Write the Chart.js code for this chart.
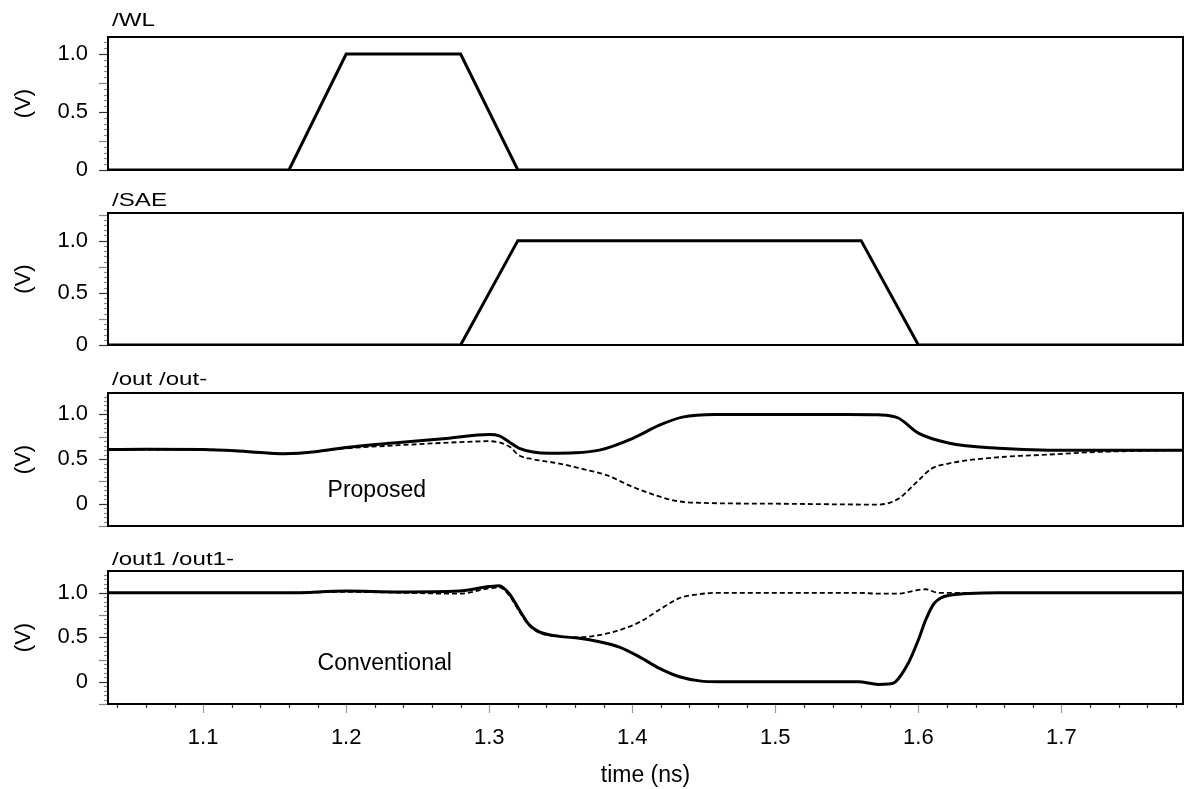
<!DOCTYPE html>
<html>
<head>
<meta charset="utf-8">
<script src="https://cdn.jsdelivr.net/npm/chart.js@4.4.1/dist/chart.umd.min.js"></script>
<style>
html, body { margin: 0; padding: 0; background: #fff; }
#wrap { position: relative; width: 1185px; height: 789px; }
#wrap canvas { position: absolute; left: 0; top: 0; }
</style>
</head>
<body>
<div id="wrap">
  <canvas id="p0" width="1185" height="789"></canvas>
  <canvas id="p1" width="1185" height="789"></canvas>
  <canvas id="p2" width="1185" height="789"></canvas>
  <canvas id="p3" width="1185" height="789"></canvas>
</div>
<script>
// time axis (ns)
const tMin = 1.0335, tMax = 1.785;
const xTicks = [1.1, 1.2, 1.3, 1.4, 1.5, 1.6, 1.7];
const yTicks = [0, 0.5, 1.0];

const panelTitles = ["/WL", "/SAE", "/out /out-", "/out1 /out1-"];
const yMin = [0, 0, -0.25, -0.25];
const yMax = [1.147, 1.265, 1.24, 1.245];

// /WL
const tWL = [1.0335, 1.16, 1.20, 1.28, 1.32, 1.785];
const vWL = [0, 0, 1, 1, 0, 0];

// /SAE
const tSAE = [1.0335, 1.28, 1.32, 1.56, 1.60, 1.785];
const vSAE = [0, 0, 1, 1, 0, 0];

// /out (proposed)
const tOut = [1.0335, 1.06, 1.10, 1.13, 1.157, 1.18, 1.20, 1.237, 1.27, 1.30, 1.307, 1.314, 1.321, 1.342, 1.36, 1.377, 1.40, 1.419, 1.435, 1.458, 1.49, 1.55, 1.572, 1.586, 1.600, 1.621, 1.656, 1.691, 1.785];
const vOut = [0.607, 0.61, 0.607, 0.585, 0.56, 0.585, 0.63, 0.685, 0.73, 0.775, 0.76, 0.69, 0.62, 0.565, 0.57, 0.60, 0.73, 0.88, 0.97, 1.0, 1.0, 1.0, 0.995, 0.96, 0.79, 0.68, 0.62, 0.60, 0.60];

// /out-
const tOutB = [1.0335, 1.10, 1.157, 1.20, 1.237, 1.28, 1.30, 1.314, 1.321, 1.330, 1.349, 1.365, 1.382, 1.40, 1.417, 1.431, 1.447, 1.50, 1.572, 1.586, 1.600, 1.609, 1.621, 1.656, 1.691, 1.726, 1.785];
const vOutB = [0.607, 0.607, 0.56, 0.62, 0.655, 0.69, 0.70, 0.64, 0.54, 0.50, 0.45, 0.39, 0.32, 0.19, 0.09, 0.03, 0.01, 0.0, -0.01, 0.055, 0.26, 0.39, 0.45, 0.52, 0.55, 0.58, 0.60];

// /out1 (conventional)
const tOut1 = [1.0335, 1.16, 1.20, 1.237, 1.279, 1.300, 1.307, 1.314, 1.321, 1.328, 1.335, 1.349, 1.363, 1.377, 1.391, 1.405, 1.419, 1.433, 1.447, 1.461, 1.558, 1.572, 1.579, 1.584, 1.593, 1.600, 1.605, 1.611, 1.621, 1.656, 1.785];
const vOut1 = [1.0, 1.0, 1.02, 1.01, 1.02, 1.07, 1.08, 0.99, 0.81, 0.64, 0.56, 0.51, 0.49, 0.45, 0.39, 0.28, 0.15, 0.056, 0.01, 0.0, 0.0, -0.03, -0.026, 0.0, 0.21, 0.47, 0.69, 0.88, 0.97, 1.0, 1.0];

// /out1-
const tOut1B = [1.0335, 1.16, 1.20, 1.279, 1.300, 1.307, 1.314, 1.321, 1.328, 1.335, 1.349, 1.363, 1.377, 1.391, 1.405, 1.419, 1.433, 1.447, 1.461, 1.558, 1.572, 1.586, 1.596, 1.605, 1.614, 1.785];
const vOut1B = [1.0, 1.0, 1.01, 0.99, 1.05, 1.06, 0.97, 0.79, 0.63, 0.55, 0.51, 0.50, 0.525, 0.58, 0.67, 0.81, 0.94, 0.985, 1.0, 1.0, 0.99, 0.99, 1.02, 1.04, 1.0, 1.0];

// in-plot labels
const noteText = ["Proposed", "Conventional"];
const noteT = [1.187, 1.180];
const noteV = [0.07, 0.13];

// panel boxes on the page
const panelTop = [37, 213, 393, 571];
const panelBottom = [170, 345, 526, 704];
const titleGap = [11, 7, 8, 6];

const FONT = "'Liberation Sans', Arial, sans-serif";
Chart.defaults.font.family = FONT;
Chart.defaults.font.size = 22;
Chart.defaults.color = "#000";

const pts = (ts, vs) => ts.map((t, i) => ({ x: t, y: vs[i] }));

const solid = (ts, vs, smooth) => ({
    data: pts(ts, vs),
    borderColor: "#000",
    borderWidth: 3,
    pointRadius: 0,
    tension: 0,
    cubicInterpolationMode: smooth ? "monotone" : "default"
});

const dashed = (ts, vs) => ({
    data: pts(ts, vs),
    borderColor: "#000",
    borderWidth: 1.8,
    borderDash: [5, 3],
    pointRadius: 0,
    cubicInterpolationMode: "monotone"
});

// frame, minor ticks, panel title and note
const panelPlugin = {
    id: "panel",
    afterDatasetsDraw(chart, args, opts) {
        const { ctx, chartArea: a } = chart;
        const ys = chart.scales.y, xs = chart.scales.x;
        ctx.save();

        // y ticks every 0.05
        for (let k = Math.ceil(ys.min / 0.05 - 1e-6); k * 0.05 <= ys.max + 1e-9; k++) {
            const py = Math.round(ys.getPixelForValue(k * 0.05)) + 0.5;
            const len = (k % 5 === 0) ? 9 : 4;
            ctx.strokeStyle = (k % 10 === 0) ? "#333" : "#888";
            ctx.lineWidth = 1.2;
            ctx.beginPath();
            ctx.moveTo(a.left - len, py);
            ctx.lineTo(a.left, py);
            ctx.stroke();
        }

        // x ticks every 0.02 on the bottom panel
        if (opts.xAxis) {
            for (let k = Math.ceil(xs.min / 0.02); k * 0.02 <= xs.max + 1e-9; k++) {
                const px = Math.round(xs.getPixelForValue(k * 0.02)) + 0.5;
                const major = k % 5 === 0;
                ctx.strokeStyle = major ? "#999" : "#333";
                ctx.lineWidth = 1.2;
                ctx.beginPath();
                ctx.moveTo(px, a.bottom);
                ctx.lineTo(px, a.bottom + (major ? 9 : 4));
                ctx.stroke();
            }
        }

        ctx.strokeStyle = "#000";
        ctx.lineWidth = 2;
        ctx.strokeRect(a.left, a.top, a.right - a.left, a.bottom - a.top);

        ctx.fillStyle = "#000";
        ctx.textBaseline = "alphabetic";
        ctx.textAlign = "left";

        if (opts.note) {
            ctx.font = "23px " + FONT;
            ctx.fillText(opts.note, xs.getPixelForValue(opts.noteT), ys.getPixelForValue(opts.noteV));
        }

        ctx.font = "19px " + FONT;
        ctx.translate(a.left + 4, a.top - opts.gap);
        ctx.scale(1.27, 1);
        ctx.fillText(opts.title, 0, 0);
        ctx.restore();
    }
};

function makePanel(i, datasets, note) {
    const last = i === 3;
    return new Chart(document.getElementById("p" + i), {
        type: "line",
        data: { datasets: datasets },
        options: {
            responsive: false,
            animation: false,
            events: [],
            layout: {
                padding: {
                    left: 0,
                    right: 2,
                    top: panelTop[i],
                    bottom: last ? 0 : 789 - panelBottom[i]
                }
            },
            plugins: {
                legend: { display: false },
                tooltip: { enabled: false },
                panel: {
                    title: panelTitles[i],
                    gap: titleGap[i],
                    xAxis: last,
                    note: note ? note.text : null,
                    noteT: note ? note.t : 0,
                    noteV: note ? note.v : 0
                }
            },
            scales: {
                x: {
                    type: "linear",
                    display: last,
                    min: tMin,
                    max: tMax,
                    afterBuildTicks: s => { s.ticks = xTicks.map(v => ({ value: v })); },
                    afterFit: s => { s.height = last ? 789 - panelBottom[3] : 0; },
                    grid: { display: false, drawTicks: false },
                    border: { display: false },
                    ticks: {
                        padding: 21,
                        maxRotation: 0,
                        font: { size: 22 },
                        callback: v => v.toFixed(1)
                    },
                    title: {
                        display: true,
                        text: "time (ns)",
                        font: { size: 23 },
                        padding: { top: 0, bottom: 0 }
                    }
                },
                y: {
                    type: "linear",
                    min: yMin[i],
                    max: yMax[i],
                    afterBuildTicks: s => { s.ticks = yTicks.map(v => ({ value: v })); },
                    afterFit: s => { s.width = 108; },
                    grid: { display: false, drawTicks: false },
                    border: { display: false },
                    ticks: {
                        padding: 20,
                        font: { size: 22 },
                        callback: v => v === 0 ? "0" : v.toFixed(1)
                    },
                    title: {
                        display: true,
                        text: "(V)",
                        font: { size: 22 },
                        padding: { top: 11, bottom: 0 }
                    }
                }
            }
        },
        plugins: [panelPlugin]
    });
}

makePanel(0, [solid(tWL, vWL, false)]);
makePanel(1, [solid(tSAE, vSAE, false)]);
makePanel(2, [solid(tOut, vOut, true), dashed(tOutB, vOutB)],
    { text: noteText[0], t: noteT[0], v: noteV[0] });
makePanel(3, [solid(tOut1, vOut1, true), dashed(tOut1B, vOut1B)],
    { text: noteText[1], t: noteT[1], v: noteV[1] });
</script>
</body>
</html>
